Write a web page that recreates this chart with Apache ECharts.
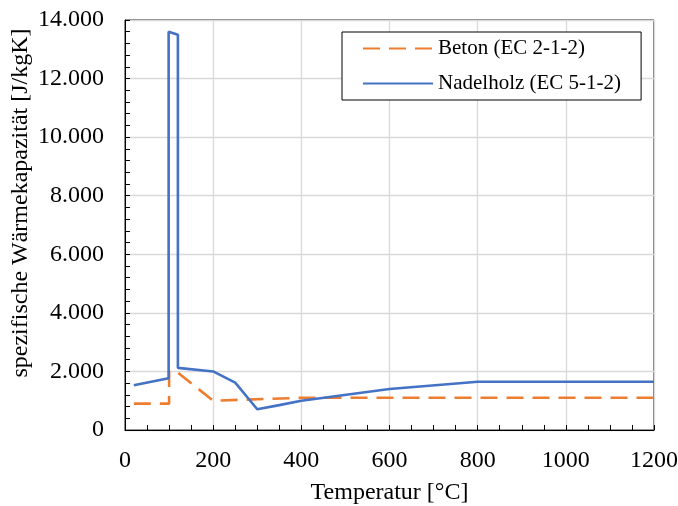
<!DOCTYPE html>
<html>
<head>
<meta charset="utf-8">
<script src="https://cdn.jsdelivr.net/npm/echarts@6/dist/echarts.min.js"></script>
<style>
  html, body { margin: 0; padding: 0; background: #fff; }
  #chart { width: 678px; height: 506px; }
</style>
</head>
<body>
<div id="chart"></div>
<script>
/* Werte */
var SERIES_NAMES = ['Beton (EC 2-1-2)', 'Nadelholz (EC 5-1-2)'];

// Beton: [Temperatur, cp]
var BETON_T  = [20, 100, 100, 115, 200, 400, 1200];
var BETON_CP = [900, 900, 2020, 2020, 1000, 1100, 1100];

// Nadelholz
var HOLZ_T  = [20, 99, 99, 120, 120, 200, 250, 300, 350, 400, 600, 800, 1200];
var HOLZ_CP = [1530, 1770, 13600, 13500, 2120, 2000, 1620, 710, 850, 1000, 1400, 1650, 1650];

var X_TICKS = [0, 200, 400, 600, 800, 1000, 1200];
var Y_TICKS = [0, 2000, 4000, 6000, 8000, 10000, 12000, 14000];

function pairs(xs, ys) {
  var rt = [];
  for (var i = 0; i < xs.length; i++) rt.push([xs[i], ys[i]]);
  return rt;
}

/* 14000 -> "14.000" */
function deNum(v) {
  return String(v).replace(/\B(?=(\d{3})+(?!\d))/g, '.');
}

var FONT = '"Liberation Serif", "Times New Roman", serif';
var FS = 24;

var option = {
  animation: false,
  backgroundColor: '#fff',
  textStyle: { fontFamily: FONT },
  grid: {
    left: 125, right: 24, top: 20, bottom: 76,
    outerBoundsMode: 'none',
    containLabel: false,
    show: true, borderColor: '#000', borderWidth: 1
  },
  legend: {
    left: 342, top: 32,
    orient: 'vertical',
    itemWidth: 70, itemHeight: 12, itemGap: 14,
    padding: [6, 20, 6, 20],
    borderColor: '#000', borderWidth: 1,
    backgroundColor: '#fff',
    itemStyle: { opacity: 0 },
    textStyle: { fontFamily: FONT, fontSize: 21, color: '#000' },
    data: SERIES_NAMES
  },
  xAxis: {
    type: 'value',
    min: X_TICKS[0], max: X_TICKS[X_TICKS.length - 1], interval: 200,
    name: 'Temperatur [°C]',
    nameLocation: 'middle', nameGap: 51,
    nameMoveOverlap: false,
    nameTextStyle: { fontFamily: FONT, fontSize: FS, color: '#000' },
    axisLine: { lineStyle: { color: '#000', width: 1 } },
    axisTick: { inside: true, length: 5, lineStyle: { color: '#000' } },
    minorTick: { show: true, splitNumber: 4, length: 5, lineStyle: { color: '#000' } },
    axisLabel: {
      fontFamily: FONT, fontSize: FS, color: '#000', margin: 19,
      formatter: function (v) { return String(v); }
    },
    splitLine: { show: true, lineStyle: { color: '#d9d9d9', width: 1.3 } }
  },
  yAxis: {
    type: 'value',
    min: Y_TICKS[0], max: Y_TICKS[Y_TICKS.length - 1], interval: 2000,
    name: 'spezifische Wärmekapazität [J/kgK]',
    nameLocation: 'middle', nameGap: 92,
    nameMoveOverlap: false,
    nameTextStyle: { fontFamily: FONT, fontSize: FS, color: '#000', padding: [0, 0, 0, 44] },
    axisLine: { show: true, lineStyle: { color: '#000', width: 1 } },
    axisTick: { show: true, inside: true, length: 5, lineStyle: { color: '#000' } },
    minorTick: { show: true, splitNumber: 5, length: 5, lineStyle: { color: '#000' } },
    axisLabel: {
      fontFamily: FONT, fontSize: FS, color: '#000', margin: 21,
      formatter: function (v) { return deNum(v); }
    },
    splitLine: { show: true, lineStyle: { color: '#d9d9d9', width: 1.3 } }
  },
  series: [
    {
      name: SERIES_NAMES[0],
      type: 'line',
      symbol: 'none',
      data: pairs(BETON_T, BETON_CP),
      itemStyle: { color: '#ED7D31' },
      lineStyle: { color: '#ED7D31', width: 2.6, type: [17, 9] },
      z: 3
    },
    {
      name: SERIES_NAMES[1],
      type: 'line',
      symbol: 'none',
      data: pairs(HOLZ_T, HOLZ_CP),
      itemStyle: { color: '#4472C4' },
      lineStyle: { color: '#4472C4', width: 2.6 },
      z: 4
    }
  ]
};

var chart = echarts.init(document.getElementById('chart'));
chart.setOption(option);
</script>
</body>
</html>
